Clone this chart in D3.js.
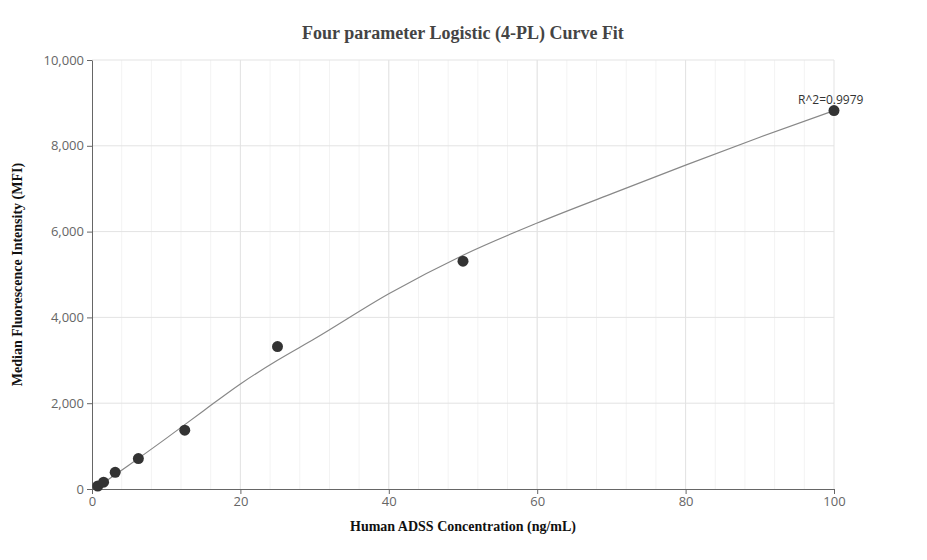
<!DOCTYPE html>
<html><head><meta charset="utf-8">
<script src="https://cdn.jsdelivr.net/npm/d3@7"></script>
<style>body{margin:0;background:#fff}</style></head>
<body><svg id="c" width="927" height="560"></svg>
<script>
const conc = [0.78, 1.56, 3.125, 6.25, 12.5, 25, 50, 100];
const mfi = [70, 160, 390, 710, 1370, 3320, 5310, 8820];
const curveX = [0.78, 2, 5, 10, 15, 20, 25, 30, 40, 50, 60, 70, 80, 90, 100];
const curveY = [60, 200, 560, 1180, 1820, 2450, 3000, 3500, 4550, 5450, 6200, 6880, 7550, 8200, 8820];
const xTicks = [0, 20, 40, 60, 80, 100];
const yTicks = [0, 2000, 4000, 6000, 8000, 10000];

const svg = d3.select("#c");
const m = {l: 92, r: 93, t: 60, b: 71};
const W = 927, H = 560;
const x = d3.scaleLinear().domain([0, 100]).range([m.l, W - m.r]);
const y = d3.scaleLinear().domain([0, 10000]).range([H - m.b, m.t]);

// minor vertical grid
svg.append("g").selectAll("line").data(d3.range(4, 100, 4)).join("line")
  .attr("x1", d => x(d)).attr("x2", d => x(d)).attr("y1", y(0)).attr("y2", y(10000))
  .attr("stroke", "#f3f3f3");
svg.append("g").selectAll("line").data(xTicks.slice(1)).join("line")
  .attr("x1", d => x(d)).attr("x2", d => x(d)).attr("y1", y(0)).attr("y2", y(10000))
  .attr("stroke", "#e3e3e3");
svg.append("g").selectAll("line").data(yTicks.slice(1)).join("line")
  .attr("x1", x(0)).attr("x2", x(100)).attr("y1", d => y(d)).attr("y2", d => y(d))
  .attr("stroke", "#e3e3e3");

const xa = svg.append("g").attr("transform", `translate(0,${y(0)})`)
  .call(d3.axisBottom(x).tickValues(xTicks).tickSize(5).tickSizeOuter(0));
const ya = svg.append("g").attr("transform", `translate(${x(0)},0)`)
  .call(d3.axisLeft(y).tickValues(yTicks).tickFormat(d3.format(",")).tickSize(5).tickSizeOuter(0));
[xa, ya].forEach(a => {
  a.selectAll("path,line").attr("stroke", "#666");
  a.selectAll("text").attr("fill", "#666").attr("font-size", 13).attr("font-family", "Open Sans, sans-serif");
});

svg.append("path").datum(curveX.map((d, i) => [d, curveY[i]]))
  .attr("d", d3.line().x(d => x(d[0])).y(d => y(d[1])).curve(d3.curveMonotoneX))
  .attr("fill", "none").attr("stroke", "#888").attr("stroke-width", 1.2);

svg.append("g").selectAll("circle").data(conc).join("circle")
  .attr("cx", d => x(d)).attr("cy", (d, i) => y(mfi[i])).attr("r", 5.5).attr("fill", "#333");

svg.append("text").attr("x", x(100) - 36).attr("y", y(8820) - 7)
  .attr("font-family", "Open Sans, sans-serif").attr("font-size", 12).attr("fill", "#333").text("R^2=0.9979");

svg.append("text").attr("x", 463).attr("y", 39).attr("text-anchor", "middle")
  .attr("font-family", "Liberation Serif, serif").attr("font-weight", "bold").attr("font-size", 18).attr("fill", "#444")
  .text("Four parameter Logistic (4-PL) Curve Fit");
svg.append("text").attr("x", 463).attr("y", 531).attr("text-anchor", "middle")
  .attr("font-family", "Liberation Serif, serif").attr("font-weight", "bold").attr("font-size", 14).attr("fill", "#111")
  .text("Human ADSS Concentration (ng/mL)");
svg.append("text").attr("transform", `translate(22,${(y(0) + y(10000)) / 2}) rotate(-90)`).attr("text-anchor", "middle")
  .attr("font-family", "Liberation Serif, serif").attr("font-weight", "bold").attr("font-size", 14).attr("fill", "#111")
  .text("Median Fluorescence Intensity (MFI)");
</script></body></html>
